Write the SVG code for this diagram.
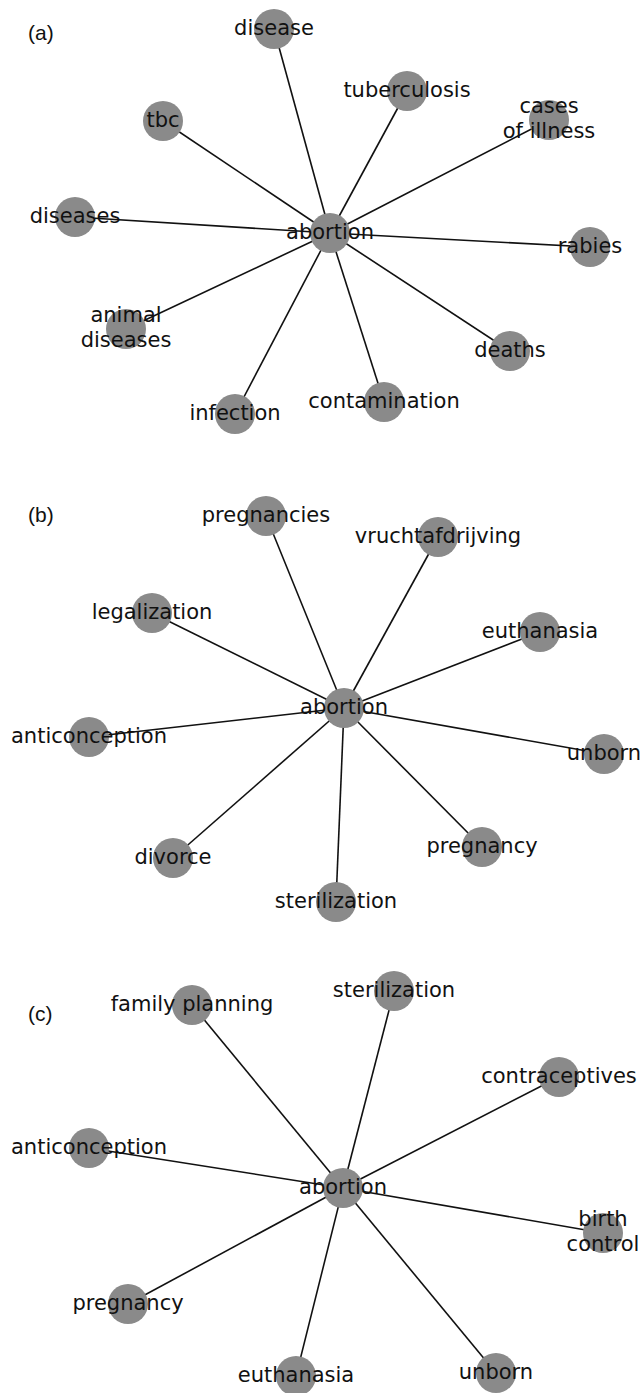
<svg xmlns="http://www.w3.org/2000/svg" width="640" height="1393" viewBox="0 0 640 1393">
<style>
.edge{stroke:#111;stroke-width:1.6;fill:none}
.node{fill:#8a8a8a}
.lbl{font-family:"DejaVu Sans",sans-serif;font-size:21px;fill:#111;text-anchor:middle}
.pl{font-family:"Liberation Sans",Arial,sans-serif;font-size:21px;fill:#111}
</style>
<rect width="640" height="1393" fill="#fff"/>
<text class="pl" x="28" y="40">(a)</text>
<text class="pl" x="28" y="522">(b)</text>
<text class="pl" x="28" y="1021">(c)</text>
<g id="connectors">
<!-- panel a -->
<line class="edge" x1="330" y1="233" x2="274" y2="29"/>
<line class="edge" x1="330" y1="233" x2="407" y2="91"/>
<line class="edge" x1="330" y1="233" x2="549" y2="120"/>
<line class="edge" x1="330" y1="233" x2="163" y2="121"/>
<line class="edge" x1="330" y1="233" x2="75" y2="217"/>
<line class="edge" x1="330" y1="233" x2="590" y2="247"/>
<line class="edge" x1="330" y1="233" x2="126" y2="329"/>
<line class="edge" x1="330" y1="233" x2="510" y2="351"/>
<line class="edge" x1="330" y1="233" x2="235" y2="414"/>
<line class="edge" x1="330" y1="233" x2="384" y2="402"/>
<!-- panel b -->
<line class="edge" x1="344" y1="708" x2="266" y2="516"/>
<line class="edge" x1="344" y1="708" x2="438" y2="537"/>
<line class="edge" x1="344" y1="708" x2="152" y2="613"/>
<line class="edge" x1="344" y1="708" x2="540" y2="632"/>
<line class="edge" x1="344" y1="708" x2="89" y2="737"/>
<line class="edge" x1="344" y1="708" x2="604" y2="754"/>
<line class="edge" x1="344" y1="708" x2="173" y2="858"/>
<line class="edge" x1="344" y1="708" x2="336" y2="902"/>
<line class="edge" x1="344" y1="708" x2="482" y2="847"/>
<!-- panel c -->
<line class="edge" x1="343" y1="1188" x2="192" y2="1005"/>
<line class="edge" x1="343" y1="1188" x2="394" y2="991"/>
<line class="edge" x1="343" y1="1188" x2="559" y2="1077"/>
<line class="edge" x1="343" y1="1188" x2="89" y2="1148"/>
<line class="edge" x1="343" y1="1188" x2="603" y2="1233"/>
<line class="edge" x1="343" y1="1188" x2="128" y2="1304"/>
<line class="edge" x1="343" y1="1188" x2="296" y2="1376"/>
<line class="edge" x1="343" y1="1188" x2="496" y2="1373"/>
</g>
<!-- panel a nodes -->
<g id="a-abortion"><circle class="node" cx="330" cy="233" r="20"/><text class="lbl" x="330" y="239">abortion</text></g>
<g id="a-disease"><circle class="node" cx="274" cy="29" r="20"/><text class="lbl" x="274" y="35">disease</text></g>
<g id="a-tuberculosis"><circle class="node" cx="407" cy="91" r="20"/><text class="lbl" x="407" y="97">tuberculosis</text></g>
<g id="a-cases"><circle class="node" cx="549" cy="120" r="20"/><text class="lbl" x="549" y="113">cases</text><text class="lbl" x="549" y="138">of illness</text></g>
<g id="a-tbc"><circle class="node" cx="163" cy="121" r="20"/><text class="lbl" x="163" y="127">tbc</text></g>
<g id="a-diseases"><circle class="node" cx="75" cy="217" r="20"/><text class="lbl" x="75" y="223">diseases</text></g>
<g id="a-rabies"><circle class="node" cx="590" cy="247" r="20"/><text class="lbl" x="590" y="253">rabies</text></g>
<g id="a-animal"><circle class="node" cx="126" cy="329" r="20"/><text class="lbl" x="126" y="322">animal</text><text class="lbl" x="126" y="347">diseases</text></g>
<g id="a-deaths"><circle class="node" cx="510" cy="351" r="20"/><text class="lbl" x="510" y="357">deaths</text></g>
<g id="a-infection"><circle class="node" cx="235" cy="414" r="20"/><text class="lbl" x="235" y="420">infection</text></g>
<g id="a-contamination"><circle class="node" cx="384" cy="402" r="20"/><text class="lbl" x="384" y="408">contamination</text></g>
<!-- panel b nodes -->
<g id="b-abortion"><circle class="node" cx="344" cy="708" r="20"/><text class="lbl" x="344" y="714">abortion</text></g>
<g id="b-pregnancies"><circle class="node" cx="266" cy="516" r="20"/><text class="lbl" x="266" y="522">pregnancies</text></g>
<g id="b-vruchtafdrijving"><circle class="node" cx="438" cy="537" r="20"/><text class="lbl" x="438" y="543">vruchtafdrijving</text></g>
<g id="b-legalization"><circle class="node" cx="152" cy="613" r="20"/><text class="lbl" x="152" y="619">legalization</text></g>
<g id="b-euthanasia"><circle class="node" cx="540" cy="632" r="20"/><text class="lbl" x="540" y="638">euthanasia</text></g>
<g id="b-anticonception"><circle class="node" cx="89" cy="737" r="20"/><text class="lbl" x="89" y="743">anticonception</text></g>
<g id="b-unborn"><circle class="node" cx="604" cy="754" r="20"/><text class="lbl" x="604" y="760">unborn</text></g>
<g id="b-divorce"><circle class="node" cx="173" cy="858" r="20"/><text class="lbl" x="173" y="864">divorce</text></g>
<g id="b-sterilization"><circle class="node" cx="336" cy="902" r="20"/><text class="lbl" x="336" y="908">sterilization</text></g>
<g id="b-pregnancy"><circle class="node" cx="482" cy="847" r="20"/><text class="lbl" x="482" y="853">pregnancy</text></g>
<!-- panel c nodes -->
<g id="c-abortion"><circle class="node" cx="343" cy="1188" r="20"/><text class="lbl" x="343" y="1194">abortion</text></g>
<g id="c-family"><circle class="node" cx="192" cy="1005" r="20"/><text class="lbl" x="192" y="1011">family planning</text></g>
<g id="c-sterilization"><circle class="node" cx="394" cy="991" r="20"/><text class="lbl" x="394" y="997">sterilization</text></g>
<g id="c-contraceptives"><circle class="node" cx="559" cy="1077" r="20"/><text class="lbl" x="559" y="1083">contraceptives</text></g>
<g id="c-anticonception"><circle class="node" cx="89" cy="1148" r="20"/><text class="lbl" x="89" y="1154">anticonception</text></g>
<g id="c-birth"><circle class="node" cx="603" cy="1233" r="20"/><text class="lbl" x="603" y="1226">birth</text><text class="lbl" x="603" y="1251">control</text></g>
<g id="c-pregnancy"><circle class="node" cx="128" cy="1304" r="20"/><text class="lbl" x="128" y="1310">pregnancy</text></g>
<g id="c-euthanasia"><circle class="node" cx="296" cy="1376" r="20"/><text class="lbl" x="296" y="1382">euthanasia</text></g>
<g id="c-unborn"><circle class="node" cx="496" cy="1373" r="20"/><text class="lbl" x="496" y="1379">unborn</text></g>
</svg>
